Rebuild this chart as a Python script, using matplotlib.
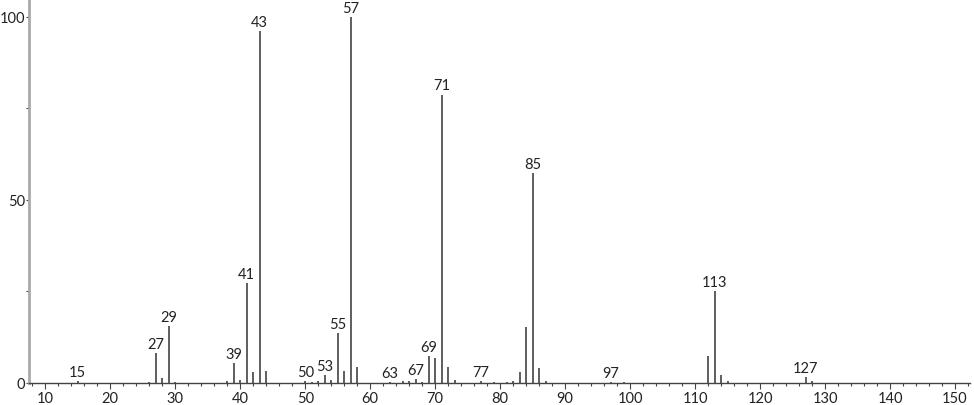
import matplotlib.pyplot as plt

# m/z and relative intensity
mz = [15, 26, 27, 28, 29, 30, 38, 39, 40, 41, 42, 43, 44,
      50, 51, 52, 53, 54, 55, 56, 57, 58,
      63, 65, 66, 67, 68, 69, 70, 71, 72, 73,
      77, 79, 81, 82, 83, 84, 85, 86, 87,
      97, 99, 112, 113, 114, 115, 127, 128]
intensity = [0.6, 0.4, 8.1, 1.4, 15.5, 0.4, 0.5, 5.5, 0.8, 27.2, 2.9, 96.1, 3.3,
             0.5, 0.3, 0.6, 2.2, 0.7, 13.7, 3.2, 100.0, 4.4,
             0.3, 0.5, 0.6, 1.1, 0.3, 7.3, 6.8, 78.8, 4.4, 0.7,
             0.5, 0.3, 0.4, 0.6, 3.0, 15.3, 57.4, 4.0, 0.5,
             0.3, 0.2, 7.3, 25.0, 2.2, 0.6, 1.6, 0.5]
labelled = [15, 27, 29, 39, 41, 43, 50, 53, 55, 57, 63, 67, 69, 71, 77, 85, 97, 113, 127]

plt.rcParams['font.family'] = ['Lato', 'DejaVu Sans']

fig = plt.figure(figsize=(9.74, 4.06), dpi=100)
ax = fig.add_axes([29 / 974, 22 / 406, 941 / 974, 384 / 406])

ax.vlines(mz, 0, intensity, colors='#333333', linewidth=1.1)

for m, h in zip(mz, intensity):
    if m in labelled:
        ax.annotate(str(m), (m, h), xytext=(0, 1.5), textcoords='offset points',
                    ha='center', va='bottom', fontsize=10.5, color='#222222',
                    annotation_clip=False)

ax.set_xlim(7.5, 152.3)
ax.set_ylim(0, 104.9)
ax.set_xticks(range(10, 151, 10))
ax.set_xticks(range(8, 153, 2), minor=True)
ax.set_yticks([0, 50, 100])
ax.set_yticks([25, 75], minor=True)

ax.spines['top'].set_visible(False)
ax.spines['right'].set_visible(False)
ax.spines['left'].set_color('#aaaaaa')
ax.spines['left'].set_linewidth(2)
ax.spines['bottom'].set_color('#444444')
ax.spines['bottom'].set_linewidth(1)

ax.tick_params(axis='x', which='major', length=4, width=0.8, color='#444444',
               labelsize=10.5, labelcolor='#222222', pad=1.5)
ax.tick_params(axis='y', which='major', length=2.5, width=0.8, color='#444444',
               labelsize=10.5, labelcolor='#222222', pad=0.5)
ax.tick_params(axis='both', which='minor', length=2, width=0.8, color='#444444')

fig.savefig('out.png', dpi=100)
